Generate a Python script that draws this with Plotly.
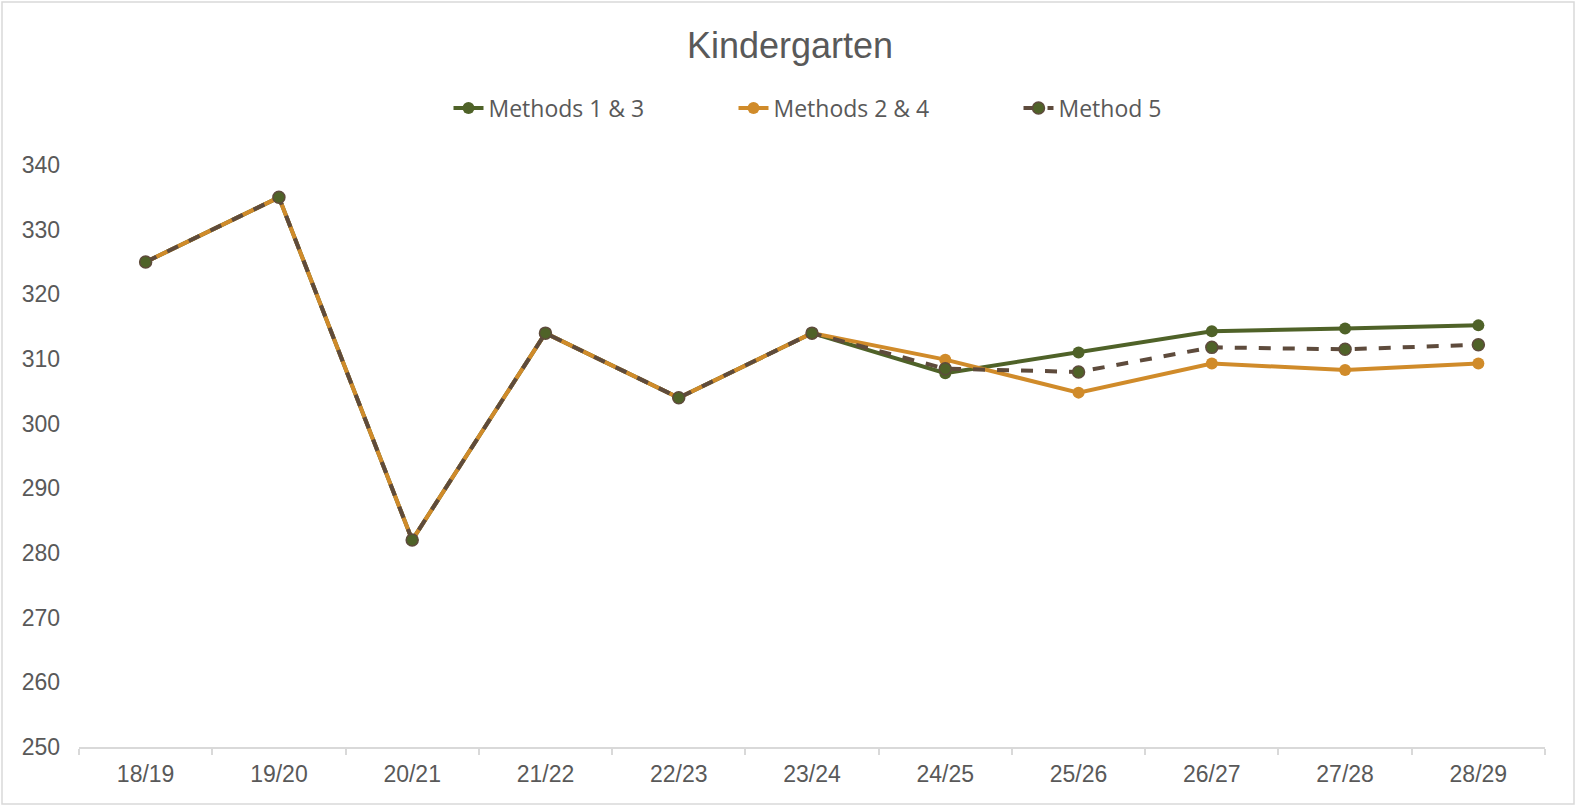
"""
Kindergarten enrolment projections, line chart in Plotly.
"""

import plotly.graph_objects as go

years = ['18/19', '19/20', '20/21', '21/22', '22/23', '23/24',
         '24/25', '25/26', '26/27', '27/28', '28/29']

methods_1_3 = [325, 335, 282, 314, 304, 314, 307.8, 311.0, 314.3, 314.7, 315.2]
methods_2_4 = [325, 335, 282, 314, 304, 314, 309.9, 304.8, 309.3, 308.3, 309.3]
method_5 = [325, 335, 282, 314, 304, 314, 308.5, 308.0, 311.8, 311.5, 312.2]

colors = {
    'green': '#4f6228',
    'orange': '#d08b2a',
    'brown': '#5e4b3c',
    'text': '#595959',
    'axis': '#d9d9d9',
}

W, H = 1580, 811
L, R, T, B = 79, 35, 165, 64
pw, ph = W - L - R, H - T - B

fig = go.Figure()

fig.add_trace(go.Scatter(
    x=years, y=methods_1_3, mode='lines+markers', name='Methods 1 & 3',
    line=dict(color=colors['green'], width=4),
    marker=dict(size=12, color=colors['green']),
))

fig.add_trace(go.Scatter(
    x=years, y=methods_2_4, mode='lines+markers', name='Methods 2 & 4',
    line=dict(color=colors['orange'], width=4),
    marker=dict(size=12, color=colors['orange']),
))

fig.add_trace(go.Scatter(
    x=years, y=method_5, mode='lines+markers', name='Method 5',
    line=dict(color=colors['brown'], width=4, dash='dash'),
    marker=dict(size=12, color=colors['green'],
                line=dict(width=1.5, color=colors['brown'])),
))

# light frame around the whole chart
fig.add_shape(type='rect', xref='paper', yref='paper',
              x0=(2 - L) / pw, x1=(1574 - L) / pw,
              y0=(H - B - 804) / ph, y1=(H - B - 2) / ph,
              line=dict(color=colors['axis'], width=1.5))

fig.update_layout(
    width=W, height=H,
    margin=dict(l=L, r=R, t=T, b=B),
    paper_bgcolor='white', plot_bgcolor='white',
    font=dict(family='Liberation Sans, Arial', color=colors['text']),
    title=dict(text='Kindergarten', x=0.5, xanchor='center',
               yref='container', y=1 - 45 / H, yanchor='middle',
               font=dict(size=36, color=colors['text'])),
    legend=dict(orientation='h', x=0.5 + 64 / pw, xanchor='center',
                y=1 + (T - 108) / ph, yanchor='middle',
                font=dict(family='Open Sans', size=23, color=colors['text']),
                entrywidth=240, entrywidthmode='pixels',
                tracegroupgap=0),
    showlegend=True,
    xaxis=dict(type='category', showgrid=False, showline=True,
               linecolor=colors['axis'], linewidth=1.5,
               ticks='outside', tickson='boundaries', ticklen=6,
               tickcolor=colors['axis'], tickwidth=1.5,
               tickfont=dict(size=23, color=colors['text']),
               ticklabelstandoff=6,
               range=[-0.5, 10.5]),
    yaxis=dict(range=[250, 340], dtick=10, showgrid=False, zeroline=False,
               showline=False, ticks='',
               tickfont=dict(size=23, color=colors['text']),
               ticklabelstandoff=18),
)

fig.write_html("out.html", config={'displayModeBar': False},
               post_script="document.body.style.margin='0';")
